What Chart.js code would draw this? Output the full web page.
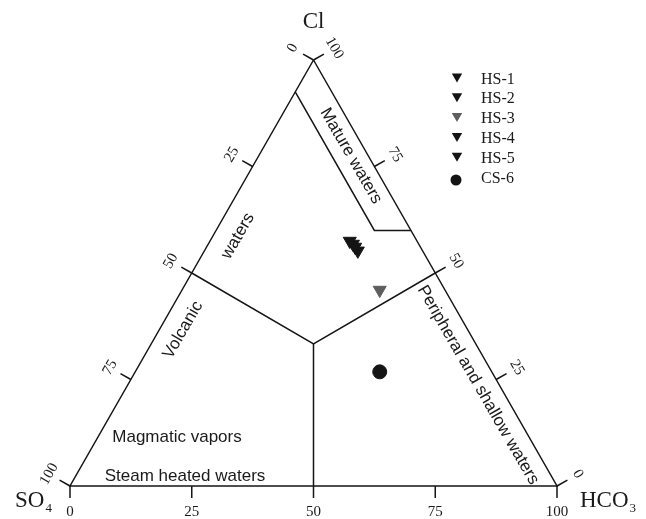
<!DOCTYPE html>
<html>
<head>
<meta charset="utf-8">
<script src="https://cdn.jsdelivr.net/npm/chart.js@4/dist/chart.umd.min.js"></script>
<style>
  html, body { margin: 0; padding: 0; background: #ffffff; }
  canvas { display: block; }
</style>
</head>
<body>
<canvas id="chart" width="646" height="519"></canvas>
<script>
// Sample compositions, relative percent of Cl, SO4 and HCO3
const sampleNames = ['HS-1', 'HS-2', 'HS-3', 'HS-4', 'HS-5', 'CS-6'];
const clPct   = [57.5, 56.8, 46.0, 56.1, 55.2, 26.8];
const so4Pct  = [13.8, 13.5, 13.4, 13.4, 13.3, 23.0];
const hco3Pct = [28.7, 29.7, 40.6, 30.5, 31.5, 50.2];

// Axis tick values (percent along each side)
const tickValues = [0, 25, 50, 75, 100];
const tickLabels = ['0', '25', '50', '75', '100'];

// Field boundaries, as [Cl, SO4, HCO3] vertices
const outline      = [[100, 0, 0], [0, 100, 0], [0, 0, 100], [100, 0, 0]];
const matureBox    = [[92.5, 7.5, 0], [60, 7.5, 32.5], [60, 0, 40]];
const volcanicEdge = [[50, 50, 0], [100 / 3, 100 / 3, 100 / 3], [50, 0, 50]];
const steamEdge    = [[100 / 3, 100 / 3, 100 / 3], [0, 50, 50]];

// Ternary -> cartesian (x across the base, y = Cl fraction)
function toXY(cl, so4, hco3) {
  const s = cl + so4 + hco3;
  return { x: (hco3 + cl / 2) / s, y: cl / s };
}

const markerStyle = {
  'HS-1': { shape: 'triangle', color: '#141414' },
  'HS-2': { shape: 'triangle', color: '#141414' },
  'HS-3': { shape: 'triangle', color: '#5e5e5e' },
  'HS-4': { shape: 'triangle', color: '#141414' },
  'HS-5': { shape: 'triangle', color: '#141414' },
  'CS-6': { shape: 'circle',   color: '#141414' }
};

const lineColor = '#151515';

const sampleSets = sampleNames.map((name, i) => {
  const st = markerStyle[name];
  return {
    label: name,
    data: [toXY(clPct[i], so4Pct[i], hco3Pct[i])],
    showLine: false,
    pointStyle: st.shape,
    rotation: st.shape === 'triangle' ? 180 : 0,
    pointRadius: st.shape === 'triangle' ? 7.5 : 7,
    pointBackgroundColor: st.color,
    pointBorderColor: st.color,
    pointBorderWidth: 1
  };
});

function boundarySet(name, verts) {
  return {
    label: name,
    data: verts.map(v => toXY(v[0], v[1], v[2])),
    showLine: true,
    fill: false,
    borderColor: lineColor,
    borderWidth: 1.5,
    pointRadius: 0,
    pointHitRadius: 0,
    tension: 0
  };
}

const lineSets = [
  boundarySet('outline', outline),
  boundarySet('mature', matureBox),
  boundarySet('volcanic', volcanicEdge),
  boundarySet('steam', steamEdge)
];

// Ticks, tick labels, field names, axis names and the legend
const ternaryDecor = {
  id: 'ternaryDecor',
  afterDatasetsDraw(chart) {
    const ctx = chart.ctx;
    const sx = chart.scales.x, sy = chart.scales.y;
    const P = (cl, so4, hco3) => {
      const p = toXY(cl, so4, hco3);
      return [sx.getPixelForValue(p.x), sy.getPixelForValue(p.y)];
    };
    const A = P(100, 0, 0), B = P(0, 100, 0), C = P(0, 0, 100);
    const G = [(A[0] + B[0] + C[0]) / 3, (A[1] + B[1] + C[1]) / 3];

    function outward(p, q) {
      const dx = q[0] - p[0], dy = q[1] - p[1];
      const L = Math.hypot(dx, dy);
      let nx = dy / L, ny = -dx / L;
      const mx = (p[0] + q[0]) / 2 - G[0], my = (p[1] + q[1]) / 2 - G[1];
      if (nx * mx + ny * my < 0) { nx = -nx; ny = -ny; }
      return [nx, ny];
    }

    const sides = [
      { pt: v => P(100 - v, v, 0), n: outward(B, A), rot: Math.atan2(A[1] - B[1], A[0] - B[0]) },
      { pt: v => P(v, 0, 100 - v), n: outward(A, C), rot: Math.atan2(C[1] - A[1], C[0] - A[0]) },
      { pt: v => P(0, 100 - v, v), n: outward(B, C), rot: 0 }
    ];

    const tickLen = 12, labelGap = 25;
    ctx.save();
    ctx.strokeStyle = lineColor;
    ctx.lineWidth = 1.5;
    ctx.fillStyle = '#1a1a1a';
    ctx.font = '15px "Liberation Serif", "Times New Roman", serif';
    ctx.textAlign = 'center';
    ctx.textBaseline = 'middle';
    sides.forEach(side => {
      tickValues.forEach((v, k) => {
        const p = side.pt(v);
        ctx.beginPath();
        ctx.moveTo(p[0], p[1]);
        ctx.lineTo(p[0] + side.n[0] * tickLen, p[1] + side.n[1] * tickLen);
        ctx.stroke();
        const lx = p[0] + side.n[0] * labelGap, ly = p[1] + side.n[1] * labelGap;
        ctx.save();
        ctx.translate(lx, ly);
        ctx.rotate(side.rot);
        ctx.fillText(tickLabels[k], 0, 1);
        ctx.restore();
      });
    });

    // Field names
    ctx.font = '17px "Liberation Sans", Arial, sans-serif';
    ctx.fillStyle = '#1a1a1a';
    const fields = [
      { text: 'Mature waters', x: 351, y: 156, rot: Math.PI / 3 },
      { text: 'waters', x: 238, y: 236, rot: -Math.PI / 3 },
      { text: 'Volcanic', x: 183, y: 330, rot: -Math.PI / 3 },
      { text: 'Peripheral and shallow waters', x: 478, y: 385, rot: Math.PI / 3 },
      { text: 'Magmatic vapors', x: 177, y: 437, rot: 0 },
      { text: 'Steam heated waters', x: 185, y: 476, rot: 0 }
    ];
    fields.forEach(f => {
      ctx.save();
      ctx.translate(f.x, f.y);
      ctx.rotate(f.rot);
      ctx.fillText(f.text, 0, 0);
      ctx.restore();
    });

    // Apex names
    ctx.textBaseline = 'alphabetic';
    ctx.font = '23px "Liberation Serif", "Times New Roman", serif';
    ctx.textAlign = 'center';
    ctx.fillText('Cl', A[0], 28);

    function chem(main, sub, x, y) {
      ctx.textAlign = 'left';
      ctx.font = '23px "Liberation Serif", "Times New Roman", serif';
      ctx.fillText(main, x, y);
      const w = ctx.measureText(main).width;
      ctx.font = '13px "Liberation Serif", "Times New Roman", serif';
      ctx.fillText(sub, x + w + 1, y + 5);
    }
    chem('SO', '4', 15, 507);
    chem('HCO', '3', 580, 507);

    // Legend
    const legX = 457, legTextX = 481, legY0 = 78, legStep = 19.8;
    ctx.font = '16px "Liberation Serif", "Times New Roman", serif';
    ctx.textAlign = 'left';
    ctx.textBaseline = 'alphabetic';
    sampleNames.forEach((name, i) => {
      const st = markerStyle[name];
      const cy = legY0 + i * legStep;
      ctx.fillStyle = st.color;
      ctx.beginPath();
      if (st.shape === 'triangle') {
        const r = 6;
        const my = cy - 1.5;
        ctx.moveTo(legX, my + r);
        ctx.lineTo(legX - r * 0.866, my - r / 2);
        ctx.lineTo(legX + r * 0.866, my - r / 2);
        ctx.closePath();
      } else {
        ctx.arc(legX - 1, cy + 3, 5.5, 0, Math.PI * 2);
      }
      ctx.fill();
      ctx.fillStyle = '#1a1a1a';
      ctx.fillText(name, legTextX, cy + 5.5);
    });
    ctx.restore();
  }
};

new Chart(document.getElementById('chart'), {
  type: 'scatter',
  data: { datasets: [...sampleSets, ...lineSets] },
  options: {
    responsive: false,
    animation: false,
    devicePixelRatio: 1,
    events: [],
    layout: { padding: 0, autoPadding: false },
    plugins: { legend: { display: false }, tooltip: { enabled: false } },
    scales: {
      x: { type: 'linear', display: false, min: -70 / 487, max: 576 / 487 },
      y: { type: 'linear', display: false, min: -33 / 426, max: 1 + 60 / 426 }
    }
  },
  plugins: [ternaryDecor]
});
</script>
</body>
</html>
